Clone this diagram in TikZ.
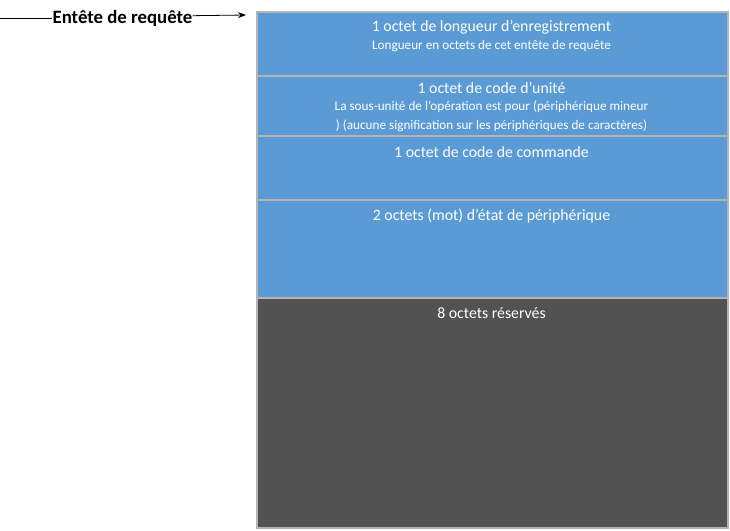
\documentclass[tikz,border=0pt]{standalone}
\usepackage{fontspec}
\setmainfont{Carlito}
\usetikzlibrary{arrows.meta}
\definecolor{boxblue}{HTML}{5B9BD5}
\definecolor{boxdark}{HTML}{525252}
\definecolor{boxedge}{HTML}{B4B4B4}
\begin{document}
\begin{tikzpicture}[x=1pt,y=-1pt,
  field/.style={draw=boxedge,line width=1.5pt,fill=boxblue,anchor=north west,inner sep=0pt,minimum width=471pt},
  reserved/.style={field,fill=boxdark},
  head/.style={text=white,anchor=base,font=\fontsize{15.8}{18}\selectfont,inner sep=0pt},
  sub/.style={text=white,anchor=base,font=\fontsize{13.2}{15}\selectfont,inner sep=0pt},
  lbl/.style={anchor=base,font=\bfseries\fontsize{18.8}{22}\selectfont,inner sep=0pt}]
\useasboundingbox (0,0) rectangle (730,530);
\node[field,minimum height=64pt] (f1) at (256,11) {};
\node[field,minimum height=60pt] (f2) at (256,75) {};
\node[field,minimum height=64pt] (f3) at (256,135) {};
\node[field,minimum height=98pt] (f4) at (256,199) {};
\node[reserved,minimum height=230pt] (f5) at (256,297) {};
\node[head] (t1) at (491.5,31) {1 octet de longueur d’enregistrement};
\node[sub] (s1) at (491.5,49.5) {Longueur en octets de cet entête de requête};
\node[head] (t2) at (491.5,93) {1 octet de code d’unité};
\node[sub] (s2) at (491.5,110.5) {La sous-unité de l’opération est pour (périphérique mineur};
\node[sub] (s3) at (491.5,129.5) {) (aucune signification sur les périphériques de caractères)};
\node[head] (t3) at (491.5,157) {1 octet de code de commande};
\node[head] (t4) at (491.5,220) {2 octets (mot) d’état de périphérique};
\node[head] (t5) at (491.5,318) {8 octets réservés};
\node[lbl] (lab) at (122.5,23.5) {Entête de requête};
\coordinate (start) at (0,18.5);
\coordinate (tip) at (246,15);
\draw[line width=0.8pt] (start) -- (lab.west |- start);
\draw[line width=0.8pt,-{Stealth[length=8pt,width=6pt]}] (lab.east |- 0,15.7) -- (tip);
\end{tikzpicture}
\end{document}
